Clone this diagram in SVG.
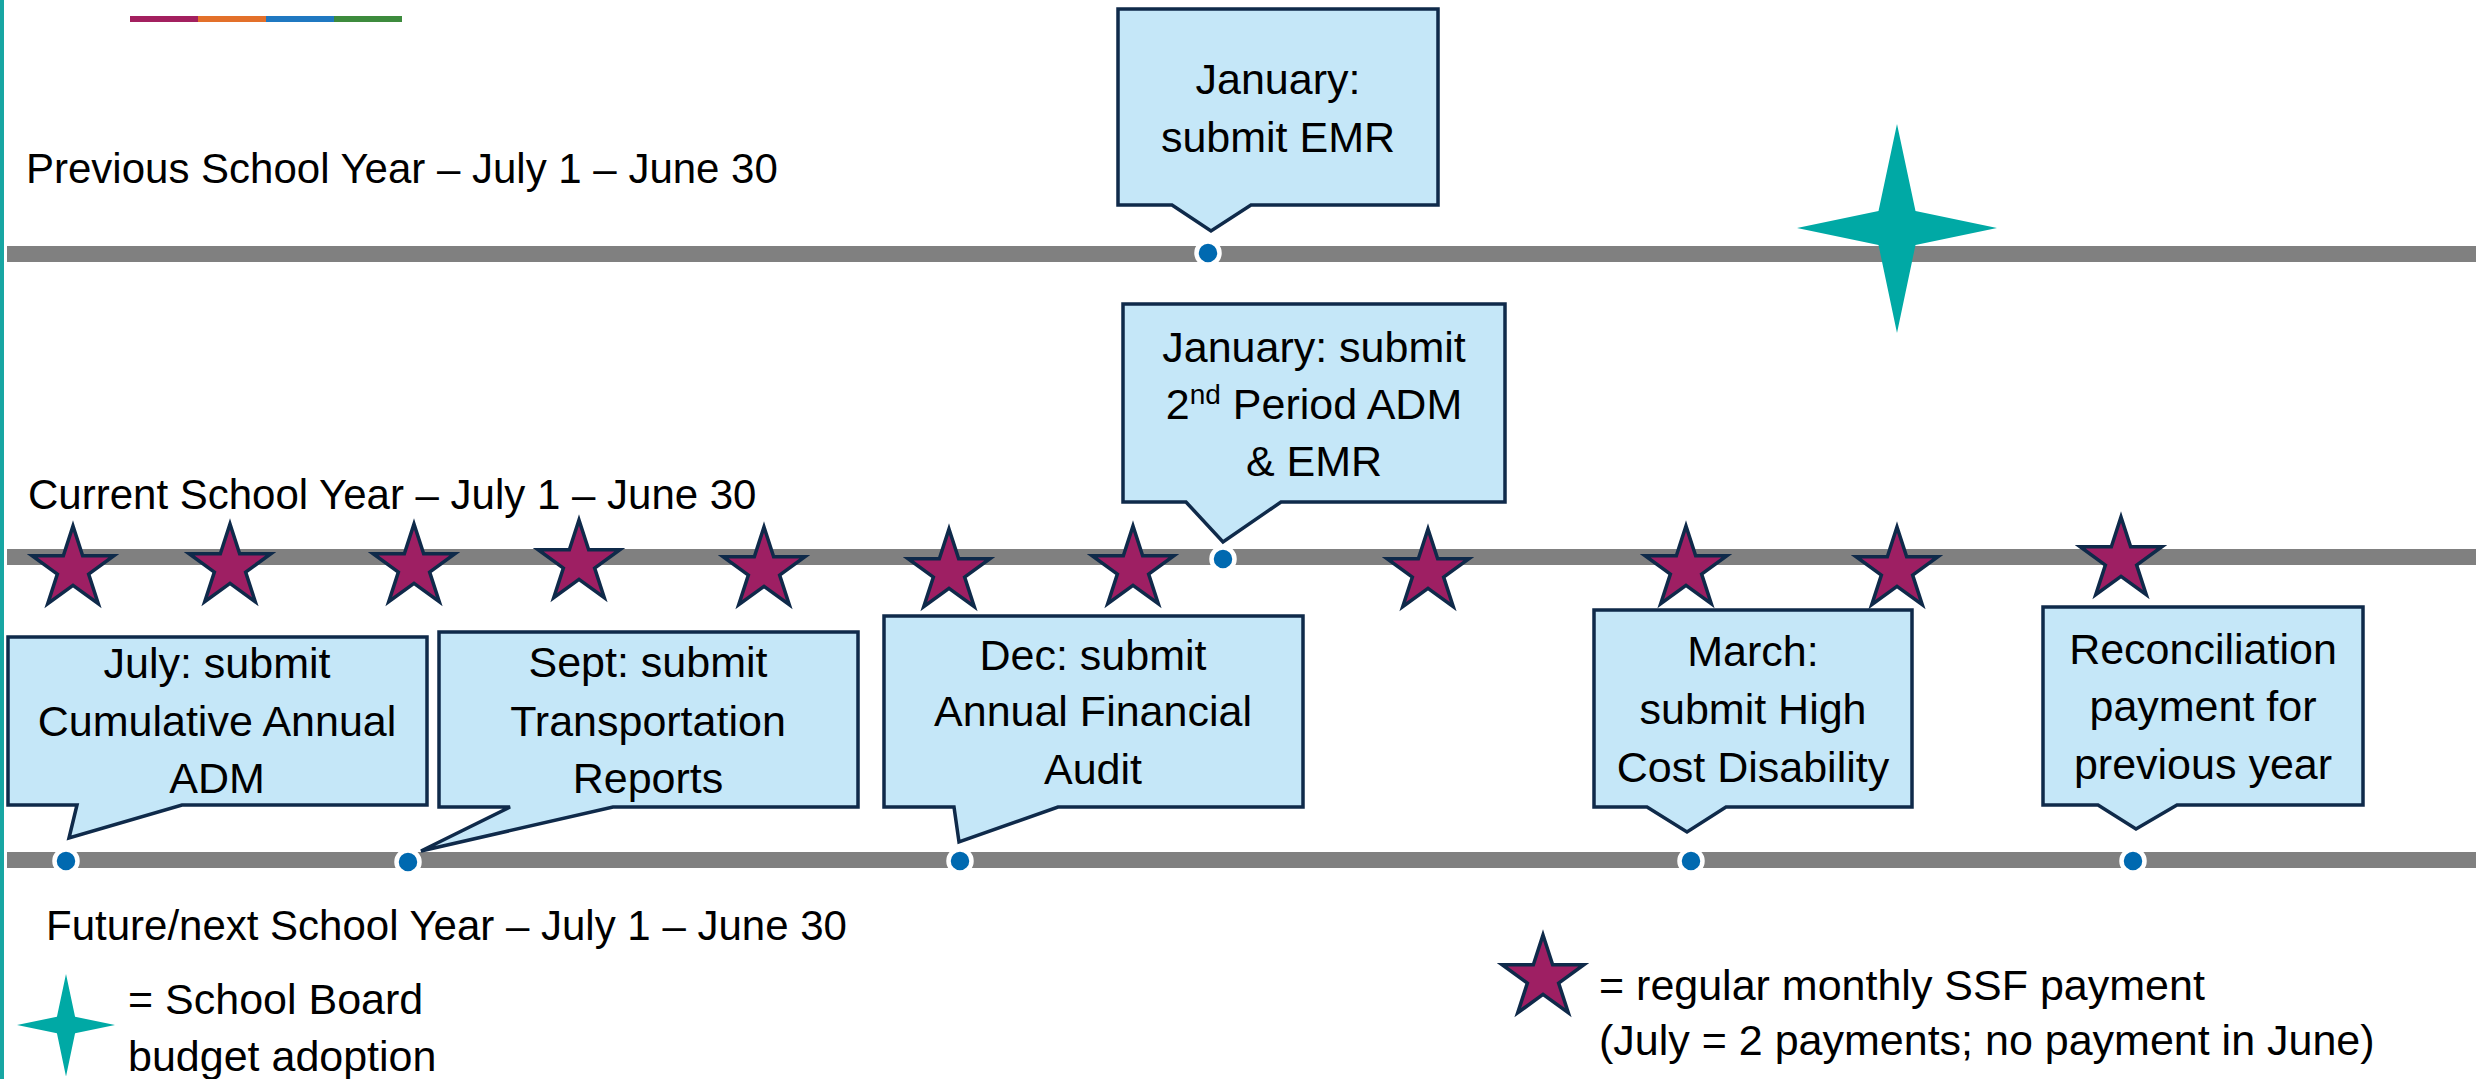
<svg xmlns="http://www.w3.org/2000/svg" xmlns:xlink="http://www.w3.org/1999/xlink" width="2476" height="1079" viewBox="0 0 2476 1079">
<defs>
<style>
.t{font-family:"Liberation Sans",Arial,sans-serif;fill:#000000;}
.hdr{font-size:42px;}
.bx{font-size:43px;text-anchor:middle;}
.lg{font-size:43px;}
.call{fill:#C5E7F8;stroke:#0F2A4A;stroke-width:3.5;stroke-linejoin:miter;}
.line{fill:#808080;}
.dot{fill:#0069B0;stroke:#FFFFFF;stroke-width:4.5;}
.star{fill:#9E1F63;stroke:#0F2A4A;stroke-width:3.5;stroke-linejoin:miter;}
.teal{fill:#00A9A5;}
</style>
<polygon id="pstar" class="star" points="0,-43 9.66,-13.29 40.9,-13.29 15.63,5.08 25.27,34.79 0,16.43 -25.27,34.79 -15.63,5.08 -40.9,-13.29 -9.66,-13.29"/>
<polygon id="tstar" class="teal" points="0,-104 18.5,-17 100,0 18.5,17 0,105 -18.5,17 -100,0 -18.5,-17"/>
</defs>
<rect width="2476" height="1079" fill="#FFFFFF"/>
<g id="frame">
<rect x="0" y="0" width="4" height="1079" fill="#17A6A3"/>
<rect x="130" y="16" width="68" height="6" fill="#A3205F"/>
<rect x="198" y="16" width="68" height="6" fill="#E3702A"/>
<rect x="266" y="16" width="68" height="6" fill="#1F78C1"/>
<rect x="334" y="16" width="68" height="6" fill="#3D8B3D"/>
</g>
<g id="labels">
<text class="t hdr" x="26" y="183">Previous School Year – July 1 – June 30</text>
<text class="t hdr" x="28" y="509">Current School Year – July 1 – June 30</text>
<text class="t hdr" x="46" y="940" font-size="42.7">Future/next School Year – July 1 – June 30</text>
</g>
<g id="connectors">
<rect class="line" x="7" y="246" width="2469" height="16"/>
<rect class="line" x="7" y="549" width="2469" height="16"/>
<rect class="line" x="7" y="852" width="2469" height="16"/>
</g>
<g id="board-adoption">
<use xlink:href="#tstar" href="#tstar" transform="translate(1897,228)"/>
</g>
<g id="payments">
<use href="#pstar" xlink:href="#pstar" x="73" y="569"/>
<use href="#pstar" xlink:href="#pstar" x="230" y="567"/>
<use href="#pstar" xlink:href="#pstar" x="414" y="567"/>
<use href="#pstar" xlink:href="#pstar" x="579" y="563"/>
<use href="#pstar" xlink:href="#pstar" x="764" y="570"/>
<use href="#pstar" xlink:href="#pstar" x="949" y="572"/>
<use href="#pstar" xlink:href="#pstar" x="1133" y="569"/>
<use href="#pstar" xlink:href="#pstar" x="1428" y="572"/>
<use href="#pstar" xlink:href="#pstar" x="1686" y="569"/>
<use href="#pstar" xlink:href="#pstar" x="1897" y="570"/>
<use href="#pstar" xlink:href="#pstar" x="2121" y="560"/>
</g>
<g id="box-jan-emr">
<path class="call" d="M1118,9 H1438 V205 H1251 L1211,231 L1172,205 H1118 Z"/>
<text class="t bx" x="1278" y="94">January:</text>
<text class="t bx" x="1278" y="152">submit EMR</text>
<circle class="dot" cx="1208" cy="253" r="11.5"/>
</g>
<g id="box-jan-adm">
<path class="call" d="M1123,304 H1505 V502 H1281 L1223,542 L1186,502 H1123 Z"/>
<text class="t bx" x="1314" y="362">January: submit</text>
<text class="t bx" x="1314" y="419">2<tspan font-size="28" dy="-15">nd</tspan><tspan dy="15"> Period ADM</tspan></text>
<text class="t bx" x="1314" y="476">&amp; EMR</text>
<circle class="dot" cx="1223" cy="559" r="11.5"/>
</g>
<g id="box-july">
<path class="call" d="M8,637 H427 V805 H182 L69,838 L77,805 H8 Z"/>
<text class="t bx" x="217" y="678">July: submit</text>
<text class="t bx" x="217" y="736">Cumulative Annual</text>
<text class="t bx" x="217" y="793">ADM</text>
<circle class="dot" cx="66" cy="861" r="11.5"/>
</g>
<g id="box-sept">
<path class="call" d="M439,632 H858 V807 H613 L421,851 L510,807 H439 Z"/>
<text class="t bx" x="648" y="677">Sept: submit</text>
<text class="t bx" x="648" y="736">Transportation</text>
<text class="t bx" x="648" y="793">Reports</text>
<circle class="dot" cx="408" cy="862" r="11.5"/>
</g>
<g id="box-dec">
<path class="call" d="M884,616 H1303 V807 H1058 L959,842 L954,807 H884 Z"/>
<text class="t bx" x="1093" y="670">Dec: submit</text>
<text class="t bx" x="1093" y="726">Annual Financial</text>
<text class="t bx" x="1093" y="784">Audit</text>
<circle class="dot" cx="960" cy="861" r="11.5"/>
</g>
<g id="box-march">
<path class="call" d="M1594,610 H1912 V807 H1726 L1687,832 L1647,807 H1594 Z"/>
<text class="t bx" x="1753" y="666">March:</text>
<text class="t bx" x="1753" y="724">submit High</text>
<text class="t bx" x="1753" y="782">Cost Disability</text>
<circle class="dot" cx="1691" cy="861" r="11.5"/>
</g>
<g id="box-reconciliation">
<path class="call" d="M2043,607 H2363 V805 H2177 L2136,829 L2098,805 H2043 Z"/>
<text class="t bx" x="2203" y="664">Reconciliation</text>
<text class="t bx" x="2203" y="721">payment for</text>
<text class="t bx" x="2203" y="779">previous year</text>
<circle class="dot" cx="2133" cy="861" r="11.5"/>
</g>
<g id="legend-board">
<use href="#tstar" xlink:href="#tstar" transform="translate(66,1025) scale(0.49)"/>
<text class="t lg" x="128" y="1014">= School Board</text>
<text class="t lg" x="128" y="1071">budget adoption</text>
</g>
<g id="legend-payment">
<use href="#pstar" xlink:href="#pstar" x="1543" y="978"/>
<text class="t lg" x="1599" y="1000">= regular monthly SSF payment</text>
<text class="t lg" x="1599" y="1055">(July = 2 payments; no payment in June)</text>
</g>
</svg>
